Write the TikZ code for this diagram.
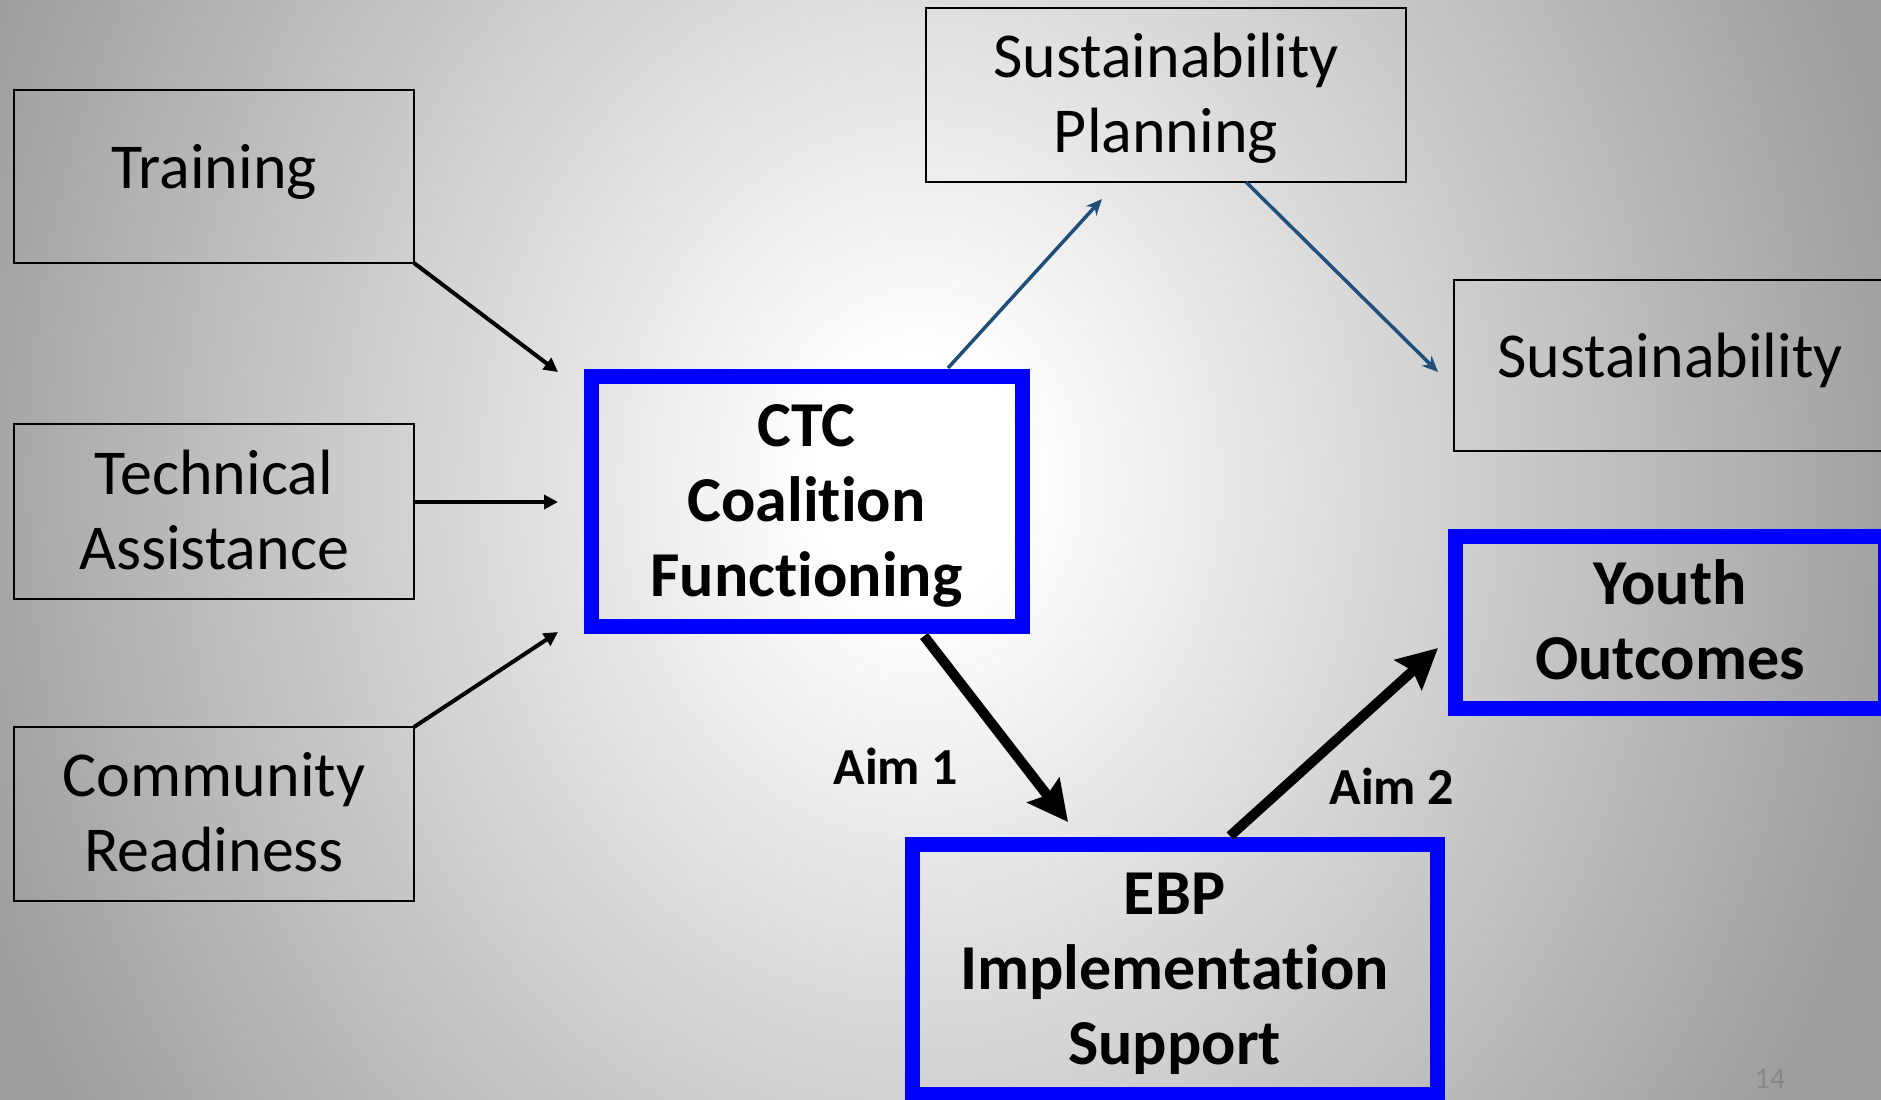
\documentclass[tikz,border=0pt]{standalone}
\usepackage{fontspec}
\setmainfont{Carlito}[Ligatures=NoCommon]
\usepackage{xcolor}
\usepackage{tikz}
\usetikzlibrary{positioning,arrows.meta}

\definecolor{bgedge}{RGB}{158,158,158}
\definecolor{linkblue}{RGB}{31,78,121}
\definecolor{aimblue}{RGB}{0,0,255}
\definecolor{pagegray}{RGB}{135,135,135}

\pgfdeclareradialshading{slidebg}{\pgfpointorigin}{%
    color(0bp)=(white); color(2.5bp)=(white); color(25bp)=(bgedge); color(50bp)=(bgedge)}

\newcommand{\lstrut}{\rule[-8.5pt]{0pt}{37pt}}
\newcommand{\sstrut}{\rule[-10pt]{0pt}{32pt}}

\begin{document}
\begin{tikzpicture}[
        x=0.5pt, y=-0.5pt,
        plainbox/.style={rectangle, draw=black, line width=1pt, inner sep=0pt, outer sep=0pt,
            align=center, font=\fontsize{32pt}{37.5pt}\selectfont},
        aimbox/.style={plainbox, draw=aimblue, line width=7.5pt,
            font=\fontsize{32pt}{37.5pt}\selectfont\bfseries},
        inputarrow/.style={-{Triangle[length=7pt,width=7pt]}, line width=2pt, black},
        sustarrow/.style={-{Stealth[length=8pt,width=7pt,inset=2.5pt]}, line width=1.75pt, linkblue},
        aimarrow/.style={-{Stealth[length=20pt,width=20pt,inset=3pt]}, line width=5pt, black},
        aimlabel/.style={font=\fontsize{26pt}{31pt}\selectfont\bfseries}
    ]
    
    % ---------- 背景 ----------
    \useasboundingbox (0,0) rectangle (1881,1099);
    \begin{scope}
        \clip (0,0) rectangle (1881,1099);
        \shade[shading=slidebg] (-80,-710) rectangle (1920,1670);
    \end{scope}
    
    % ---------- 输入 ----------
    \node[plainbox, minimum width=200pt, minimum height=86.5pt] (train) at (214,176.5) {\sstrut Training};
    \node[plainbox, minimum width=200pt, minimum height=87.5pt] (tech) at (214,511.5) {\lstrut Technical\\\lstrut Assistance};
    \node[plainbox, minimum width=200pt, minimum height=87pt] (comm) at (214,814) {\lstrut Community\\\lstrut Readiness};
    
    % ---------- 中间 ----------
    \node[aimbox, minimum width=215.5pt, minimum height=125pt] (ctc) at (806.5,501) {\lstrut CTC\\\lstrut Coalition\\\lstrut Functioning};
    \node[aimbox, minimum width=262.5pt, minimum height=125pt] (ebp) at (1174.5,969) {\lstrut EBP\\\lstrut Implementation\\\lstrut Support};
    
    % ---------- 结果 ----------
    \node[plainbox, minimum width=240pt, minimum height=87pt] (sp) at (1166,95) {\lstrut Sustainability\\\lstrut Planning};
    \node[plainbox, minimum width=216pt, minimum height=85.5pt] (sust) at (1670,365.5) {\sstrut Sustainability};
    \node[aimbox, minimum width=215pt, minimum height=86pt] (youth) at (1670,622) {\lstrut Youth\\\lstrut Outcomes};
    
    % ---------- 连线 ----------
    \draw[inputarrow] (train.south east) -- ([xshift=-16.5pt,yshift=2pt]ctc.north west);
    \draw[inputarrow] ([yshift=4.75pt]tech.east) -- ([xshift=-16.5pt,yshift=-0.5pt]ctc.west);
    \draw[inputarrow] (comm.north east) -- ([xshift=-16.5pt,yshift=-3pt]ctc.south west);
    
    \draw[sustarrow] ([xshift=70.75pt,yshift=4pt]ctc.north) -- ([xshift=-32pt,yshift=-8.5pt]sp.south);
    \draw[sustarrow] ([xshift=40pt]sp.south) -- ([xshift=-8pt,yshift=-3.25pt]sust.west);
    
    \draw[aimarrow] ([xshift=58.75pt,yshift=-5pt]ctc.south) -- ([xshift=-53.25pt,yshift=11pt]ebp.north);
    \draw[aimarrow] ([xshift=27.75pt,yshift=4pt]ebp.north) -- ([xshift=-8.5pt,yshift=-13pt]youth.west);
    
    % ---------- 标签 ----------
    \node[aimlabel] (aim1) at (896,766) {Aim 1};
    \node[aimlabel] (aim2) at (1392,786) {Aim 2};
    \node[anchor=base, text=pagegray, font=\fontsize{15pt}{18pt}\selectfont] (pagenum) at (1770,1088) {14};
    
\end{tikzpicture}
\end{document}
